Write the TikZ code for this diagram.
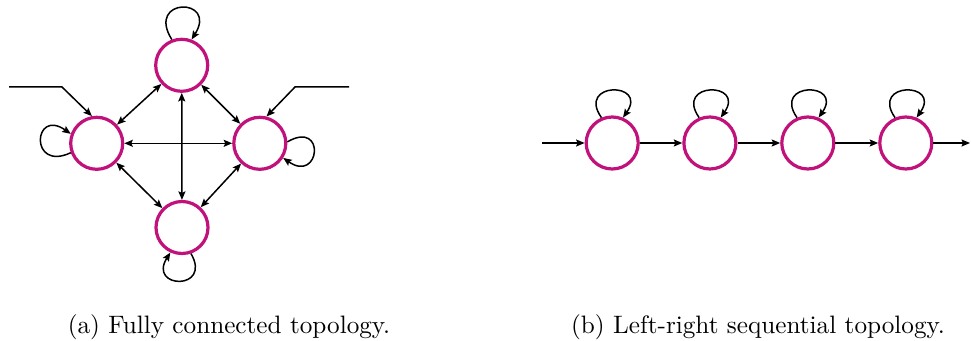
\documentclass[tikz,border=0pt]{standalone}
\usetikzlibrary{arrows.meta}
\definecolor{stateclr}{RGB}{192,18,122}
\begin{document}
\begin{tikzpicture}[x=1pt,y=1pt,
  state/.style={circle,draw=stateclr,line width=3.2pt,minimum size=52pt,inner sep=0pt},
  conn/.style={line width=1.5pt,-{Stealth[length=8.5pt,width=7pt,inset=1.5pt]}},
  biconn/.style={line width=1.5pt,{Stealth[length=8.5pt,width=7pt,inset=1.5pt]}-{Stealth[length=8.5pt,width=7pt,inset=1.5pt]}},
  captext/.style={anchor=base,inner sep=0pt,font=\fontsize{10}{12}\selectfont,scale=2.52}]
\useasboundingbox (0,0) rectangle (971,340);
% (a) fully connected
\node[state] (T) at (181.7,274.7) {};
\node[state] (L) at (96.7,196.7) {};
\node[state] (R) at (259.8,196.7) {};
\node[state] (B) at (182,112.5) {};
\draw[biconn] (T) -- (L);
\draw[biconn] (T) -- (R);
\draw[biconn] (L) -- (B);
\draw[biconn] (R) -- (B);
\draw[biconn] (L) -- (R);
\draw[biconn] (T) -- (B);
\coordinate (inL) at (9,253);
\coordinate (kL) at (62,253);
\coordinate (inR) at (349,253);
\coordinate (kR) at (295,253);
\draw[conn] (inL) -- (kL) -- (L.100);
\draw[conn] (inR) -- (kR) -- (R.76);
\draw[conn] (T.111) .. controls +(122:50) and +(58:50) .. (T.69);
\draw[conn] (L.200) .. controls +(205:46) and +(145:46) .. (L.160);
\draw[conn] (R.3) .. controls +(30:45) and +(-35:45) .. (R.-32);
\draw[conn] (B.-71) .. controls +(-60:43) and +(-122:43) .. (B.-115);
\node[captext] (capa) at (229,6.3) {(a) Fully connected topology.};
% (b) left-right
\node[state] (n1) at (612.2,197) {};
\node[state] (n2) at (709.9,197) {};
\node[state] (n3) at (807.8,197) {};
\node[state] (n4) at (905.8,197) {};
\coordinate (s) at (542.3,197);
\coordinate (e) at (970,197);
\draw[conn] (s) -- (n1);
\draw[conn] (n1) -- (n2);
\draw[conn] (n2) -- (n3);
\draw[conn] (n3) -- (n4);
\draw[conn] (n4) -- (e);
\foreach \n in {n1,n2,n3,n4}
  \draw[conn] (\n.113) .. controls +(125:44) and +(55:44) .. (\n.67);
\node[captext] (capb) at (758,6.3) {(b) Left-right sequential topology.};
\end{tikzpicture}
\end{document}
